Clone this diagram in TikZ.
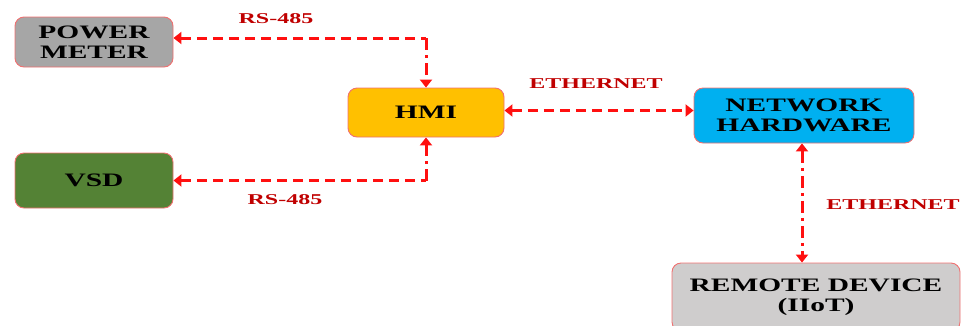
\documentclass[tikz,border=0pt]{standalone}
\usepackage{fontspec}
\usetikzlibrary{arrows.meta}
\newfontfamily\widefont{Liberation Serif}[FakeStretch=1.55]
\newfontfamily\lblfont{Liberation Serif}[FakeStretch=1.6]
\definecolor{linered}{HTML}{FF1010}
\definecolor{labelred}{HTML}{C00000}
\definecolor{edgered}{HTML}{F07070}
\definecolor{pmgray}{HTML}{A6A6A6}
\definecolor{vsdgreen}{HTML}{548235}
\definecolor{hmiyellow}{HTML}{FFC000}
\definecolor{netblue}{HTML}{00B0F0}
\definecolor{remgray}{HTML}{CFCDCD}
\tikzset{
  blk/.style={draw=edgered, line width=0.9pt, rounded corners=9pt, align=center,
    font=\widefont\bfseries\fontsize{19}{20.5}\selectfont, text=black, inner sep=0pt},
  lbl/.style={font=\lblfont\bfseries\fontsize{15}{16}\selectfont, text=labelred},
  link/.style={draw=linered, line width=3pt, dash pattern=on 10pt off 6pt},
  linkdd/.style={draw=linered, line width=3pt, dash pattern=on 12pt off 5pt on 3pt off 5pt},
  tip/.tip={Triangle[length=8pt,width=12pt]}
}
\begin{document}
\begin{tikzpicture}[x=1pt,y=-1pt]
\useasboundingbox (0,0) rectangle (971,325);
\clip (0,0) rectangle (971,325);
\node[blk, fill=pmgray, minimum width=158pt, minimum height=50pt] (pm) at (94,42) {POWER\\METER};
\node[blk, fill=vsdgreen, minimum width=158pt, minimum height=55pt] (vsd) at (94,180.5) {VSD};
\node[blk, fill=hmiyellow, minimum width=156pt, minimum height=49pt] (hmi) at (426,112.5) {HMI};
\node[blk, fill=netblue, minimum width=220pt, minimum height=55pt] (nh) at (804,115.5) {NETWORK\\HARDWARE};
\node[blk, fill=remgray, minimum width=288pt, minimum height=68pt] (rd) at (816,297) {REMOTE DEVICE\\(IIoT)};

\coordinate (c1) at (hmi.north |- 0,38);
\coordinate (c2) at (hmi.south |- vsd.east);

\draw[link, {tip}-] ([yshift=4pt]pm.east) -- (c1);
\draw[linkdd, -{tip}] (c1) -- (hmi.north);
\draw[link, {tip}-] (vsd.east) -- (c2);
\draw[linkdd, -{tip}] (c2) -- (hmi.south);
\draw[link, {tip}-{tip}] ([yshift=2pt]hmi.east) -- ([yshift=2pt]hmi.east -| nh.west);
\draw[linkdd, {tip}-{tip}] ([xshift=-2pt]nh.south) -- ([xshift=-2pt]nh.south |- rd.north);

\node[lbl] (l1) at (276,19) {RS-485};
\node[lbl] (l2) at (285,200) {RS-485};
\node[lbl] (l3) at (596,84) {ETHERNET};
\node[lbl] (l4) at (893,205) {ETHERNET};
\end{tikzpicture}
\end{document}
